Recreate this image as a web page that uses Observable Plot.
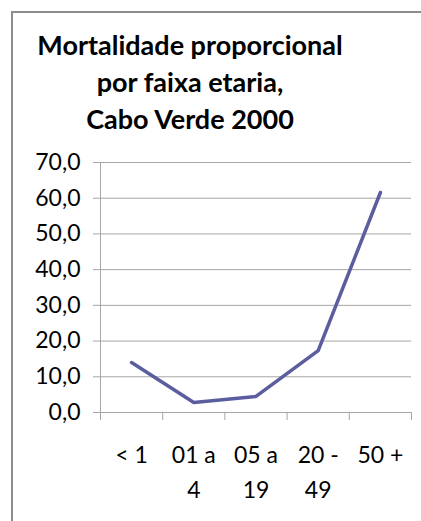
<!DOCTYPE html>
<html>
<head>
<meta charset="utf-8">
<script src="https://cdn.jsdelivr.net/npm/d3@7"></script>
<script src="https://cdn.jsdelivr.net/npm/@observablehq/plot@0.6"></script>
<style>
  html, body { margin: 0; padding: 0; background: #fff; }
  #wrap { position: relative; width: 421px; height: 521px; overflow: hidden; font-family: Lato, "Open Sans", sans-serif; }
  #frame { position: absolute; left: 11px; top: 11px; width: 440px; height: 540px; border-left: 2px solid #8c8c8c; border-top: 2px solid #8c8c8c; box-sizing: border-box; }
  .t { position: absolute; left: 0; width: 380px; text-align: center; font-weight: bold; font-size: 27px; line-height: 37px; color: #000; white-space: nowrap; }
  #chart { position: absolute; left: 0; top: 0; }
</style>
</head>
<body>
<div id="wrap">
  <div id="frame"></div>
  <div id="chart"></div>
  <div class="t" style="top:26px">Mortalidade proporcional</div>
  <div class="t" style="top:63px">por faixa etaria,</div>
  <div class="t" style="top:100px">Cabo Verde 2000</div>
</div>
<script>
const categories = ["< 1", "01 a\n4", "05 a\n19", "20 -\n49", "50 +"];
const values = [14.0, 2.8, 4.5, 17.3, 61.6];
const yTicks = [0, 10, 20, 30, 40, 50, 60, 70];

const data = categories.map((c, i) => ({i, c, v: values[i]}));
const idx = d3.range(categories.length);
const bounds = d3.range(categories.length + 1).map(k => k - 0.5);
const gridColor = "#a6a6a6";

const chart = Plot.plot({
  width: 421,
  height: 521,
  marginLeft: 100,
  marginRight: 10,
  marginTop: 162,
  marginBottom: 109,
  style: {fontFamily: "Lato, 'Open Sans', sans-serif", fontSize: "23px", color: "#000", background: "transparent", overflow: "visible"},
  x: {type: "linear", domain: [-0.5, categories.length - 0.5]},
  y: {domain: [0, 70]},
  marks: [
    Plot.gridY(yTicks, {stroke: gridColor, strokeOpacity: 1}),
    Plot.ruleX([-0.5], {y1: 0, y2: 70, stroke: gridColor}),
    Plot.ruleY([0], {stroke: gridColor}),
    Plot.axisY({ticks: yTicks, tickSize: 7, tickPadding: 13, stroke: gridColor, fill: "#000",
      tickFormat: d => d.toFixed(1).replace(".", ","), label: null, fontSize: 23}),
    Plot.axisX({ticks: bounds, tickSize: 8, tickFormat: () => "", stroke: gridColor, label: null}),
    Plot.axisX({ticks: idx, tickSize: 0, tickPadding: 26, tickFormat: i => categories[i],
      lineHeight: 1.52, fill: "#000", label: null, fontSize: 23}),
    Plot.line(data, {x: "i", y: "v", stroke: "#5a5e9e", strokeWidth: 3.5, strokeLinejoin: "round"})
  ]
});
document.getElementById("chart").appendChild(chart);
</script>
</body>
</html>
